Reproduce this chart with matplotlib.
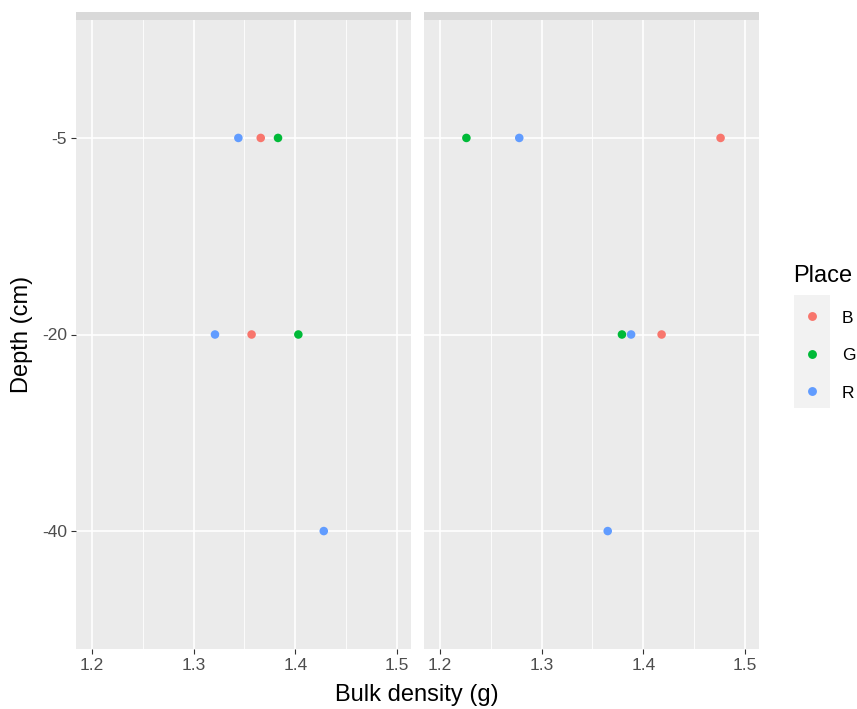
import matplotlib.pyplot as plt
from matplotlib.lines import Line2D
from matplotlib.patches import Rectangle

# data: two facets, discrete depth levels
depth_levels = ["-40", "-20", "-5"]
places = ["B", "G", "R"]
colors = {"B": "#F8766D", "G": "#00BA38", "R": "#619CFF"}

panel1_depth = ["-5", "-5", "-5", "-20", "-20", "-20", "-40"]
panel1_place = ["R", "B", "G", "R", "B", "G", "R"]
panel1_density = [1.344, 1.366, 1.383, 1.321, 1.357, 1.403, 1.428]

panel2_depth = ["-5", "-5", "-5", "-20", "-20", "-20", "-40"]
panel2_place = ["G", "R", "B", "G", "R", "B", "R"]
panel2_density = [1.226, 1.278, 1.476, 1.379, 1.388, 1.418, 1.365]

x_ticks = [1.2, 1.3, 1.4, 1.5]
x_minor = [1.25, 1.35, 1.45]
x_lim = (1.1843, 1.5138)

W, H = 857, 709
plt.rcParams["font.family"] = ["Liberation Sans", "DejaVu Sans"]
fig = plt.figure(figsize=(W / 100, H / 100), dpi=100)

bottom = 1 - 649 / H
top = 1 - 20 / H
strip_top = 1 - 12 / H
lefts = [76 / W, 424 / W]
width = 335 / W

TITLE_SIZE = 17
TICK_SIZE = 12.5

panels = [
    (panel1_depth, panel1_place, panel1_density),
    (panel2_depth, panel2_place, panel2_density),
]

for i, (deps, pls, dens) in enumerate(panels):
    ax = fig.add_axes([lefts[i], bottom, width, top - bottom])
    ax.set_facecolor("#EBEBEB")
    for s in ax.spines.values():
        s.set_visible(False)
    ypos = [depth_levels.index(d) for d in deps]
    ax.set_xlim(*x_lim)
    ax.set_ylim(-0.6, len(depth_levels) - 0.4)
    for xm in x_minor:
        ax.axvline(xm, color="white", lw=0.6, zorder=0)
    for xt in x_ticks:
        ax.axvline(xt, color="white", lw=1.2, zorder=0)
    for yt in range(len(depth_levels)):
        ax.axhline(yt, color="white", lw=1.2, zorder=0)
    ax.scatter(dens, ypos, c=[colors[p] for p in pls], s=38, zorder=3, linewidths=0)
    ax.set_xticks(x_ticks)
    ax.set_xticklabels([f"{v:.1f}" for v in x_ticks])
    ax.set_yticks(range(len(depth_levels)))
    ax.tick_params(axis="both", colors="#333333", labelcolor="#4D4D4D",
                   labelsize=TICK_SIZE, length=3.5, width=0.8, pad=3)
    if i == 0:
        ax.set_yticklabels(depth_levels)
    else:
        ax.set_yticklabels([])
        ax.tick_params(axis="y", length=0)
    # empty strip on top
    sax = fig.add_axes([lefts[i], top, width, strip_top - top])
    sax.set_facecolor("#D9D9D9")
    sax.set_xticks([])
    sax.set_yticks([])
    for s in sax.spines.values():
        s.set_visible(False)

fig.text((76 + 758) / 2 / W, 1 - 701 / H, "Bulk density (g)", ha="center",
         va="baseline", fontsize=TITLE_SIZE, color="black")
fig.text(22 / W, (bottom + top) / 2, "Depth (cm)", ha="center", va="center",
         rotation=90, fontsize=TITLE_SIZE, color="black")

# legend drawn by hand to match the ggplot guide
fig.patches.append(Rectangle((794 / W, 1 - 408 / H), 36 / W, 113 / H,
                             transform=fig.transFigure, facecolor="#F2F2F2",
                             edgecolor="none", zorder=0))
fig.text(793 / W, 1 - 282 / H, "Place", ha="left", va="baseline",
         fontsize=TITLE_SIZE, color="black")
key_y = [316, 354, 391]
for p, ky in zip(places, key_y):
    fig.add_artist(Line2D([812 / W], [1 - ky / H], marker="o", ls="",
                          color=colors[p], markersize=6.4,
                          markeredgewidth=0, transform=fig.transFigure))
    fig.text(842 / W, 1 - (ky + 6.5) / H, p, ha="left", va="baseline",
             fontsize=TICK_SIZE, color="black")

fig.savefig("out.png", dpi=100)
